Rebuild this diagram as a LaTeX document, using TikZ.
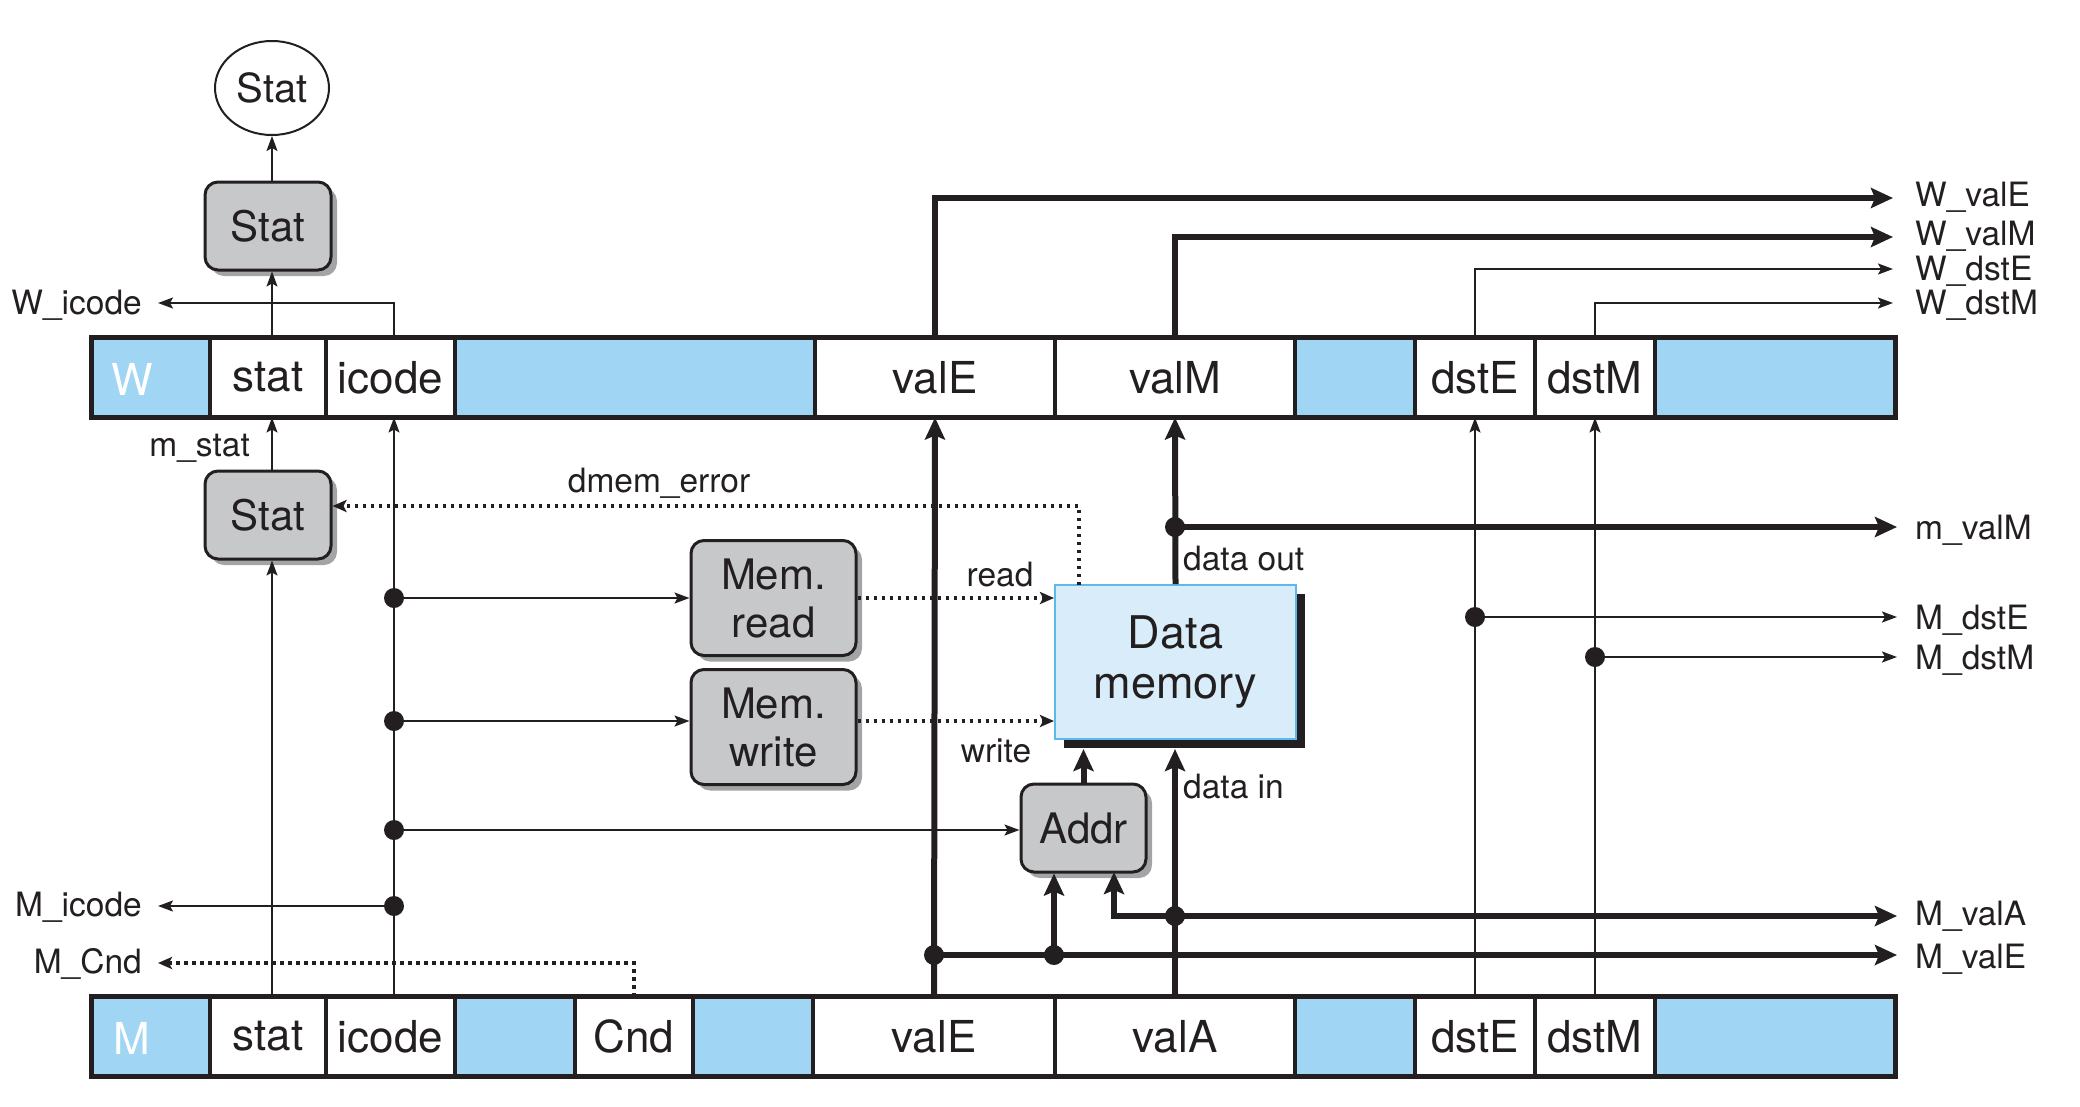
\documentclass[tikz,border=0pt]{standalone}
\usepackage{fontspec}
\setmainfont{TeX Gyre Heros}
\usetikzlibrary{arrows.meta,shapes.geometric,shadows,calc}
\definecolor{ink}{HTML}{231F20}
\definecolor{regblue}{HTML}{A0D6F3}
\definecolor{boxgray}{HTML}{C7C8CA}
\definecolor{shadowgray}{HTML}{A3A4A6}
\definecolor{memfill}{HTML}{D8ECFA}
\definecolor{memedge}{HTML}{5DB9EC}
\newcommand\cellfont{\fontsize{44}{48}\selectfont}
\newcommand\boxfont{\fontsize{42}{48}\selectfont}
\newcommand\memfont{\fontsize{45}{50}\selectfont}
\newcommand\ellfont{\fontsize{40}{44}\selectfont}
\newcommand\lblfont{\fontsize{33.5}{37}\selectfont}
\begin{document}
\begin{tikzpicture}[x=1pt,y=-1pt,color=ink,
 regcell/.style={draw=ink, line width=3.5pt, minimum height=80pt, inner sep=0pt, outer sep=0pt, fill=white, font=\cellfont},
 bluecell/.style={regcell, fill=regblue},
 gbox/.style={draw=ink, line width=3pt, rounded corners=13pt, fill=boxgray, font=\boxfont, align=center, inner sep=0pt,
   drop shadow={shadow xshift=6pt, shadow yshift=-6pt, fill=shadowgray, opacity=1, draw=none}},
 lbl/.style={font=\lblfont, inner sep=0pt},
 arr/.style={line width=1.9pt, -{Stealth[length=15pt,width=11pt,inset=3pt]}},
 tarr/.style={line width=6pt, -{Stealth[length=22pt,width=20pt,inset=4pt]}},
 darr/.style={line width=3.5pt, dash pattern=on 3.5pt off 4.5pt, -{Stealth[length=14pt,width=12pt,inset=3pt]}},
]
\useasboundingbox (0,0) rectangle (2080,1106);

% ---------- W register ----------
\node[bluecell, minimum width=118.5pt] (Wlab) at (150.75,377.5) {};
\node[regcell, minimum width=116pt] (Wstat) at (268,377.5) {stat};
\node[regcell, minimum width=129pt] (Wicode) at (390.5,377.5) {icode};
\node[bluecell, minimum width=360pt] (Wb1) at (635,377.5) {};
\node[regcell, minimum width=240pt] (WvalE) at (935,377.5) {valE};
\node[regcell, minimum width=240pt] (WvalM) at (1175,377.5) {valM};
\node[bluecell, minimum width=120pt] (Wb2) at (1355,377.5) {};
\node[regcell, minimum width=120pt] (WdstE) at (1475,377.5) {dstE};
\node[regcell, minimum width=120pt] (WdstM) at (1595,377.5) {dstM};
\node[bluecell, minimum width=240pt] (Wb3) at (1775,377.5) {};
\draw[line width=5pt] (Wlab.north west) rectangle (Wb3.south east);
\node[font=\cellfont, text=white, anchor=west, inner sep=0pt] (Wtxt) at (111,379.5) {W};

% ---------- M register ----------
\node[bluecell, minimum width=118.5pt] (Mlab) at (150.75,1036.5) {};
\node[regcell, minimum width=116pt] (Mstat) at (268,1036.5) {stat};
\node[regcell, minimum width=129pt] (Micode) at (390.5,1036.5) {icode};
\node[bluecell, minimum width=120pt] (Mb1) at (515,1036.5) {};
\node[regcell, minimum width=118pt] (MCnd) at (634,1036.5) {Cnd};
\node[bluecell, minimum width=120pt] (Mb2) at (753,1036.5) {};
\node[regcell, minimum width=242pt] (MvalE) at (934,1036.5) {valE};
\node[regcell, minimum width=240pt] (MvalA) at (1175,1036.5) {valA};
\node[bluecell, minimum width=120pt] (Mb3) at (1355,1036.5) {};
\node[regcell, minimum width=120pt] (MdstE) at (1475,1036.5) {dstE};
\node[regcell, minimum width=120pt] (MdstM) at (1595,1036.5) {dstM};
\node[bluecell, minimum width=240pt] (Mb4) at (1775,1036.5) {};
\draw[line width=5pt] (Mlab.north west) rectangle (Mb4.south east);
\node[font=\cellfont, text=white, anchor=west, inner sep=0pt] (Mtxt) at (113,1038.5) {M};

% ---------- boxes ----------
\node[draw=ink, ellipse, line width=2pt, minimum width=114pt, minimum height=94pt, inner sep=0pt, fill=white, font=\ellfont] (statE) at (272,88) {Stat};
\node[gbox, minimum width=126pt, minimum height=88pt] (statT) at (268,226) {Stat};
\node[gbox, minimum width=126pt, minimum height=88pt] (statB) at (268,515) {Stat};
\node[gbox, minimum width=165pt, minimum height=115pt] (memR) at (773.5,598) {Mem.\\read};
\node[gbox, minimum width=165pt, minimum height=115pt] (memW) at (773.5,727) {Mem.\\write};
\node[gbox, minimum width=125pt, minimum height=88pt] (addr) at (1083.5,828) {Addr};
\node[draw=memedge, line width=2pt, fill=memfill, minimum width=241pt, minimum height=154pt, inner sep=0pt, align=center, font=\memfont,
   drop shadow={shadow xshift=9pt, shadow yshift=-9pt, fill=ink, opacity=1, draw=none}] (dmem) at (1175.5,662) {Data\\memory};

% ---------- coordinates ----------
\coordinate (scx) at (272,0);
\coordinate (icx) at (394,0);
\coordinate (dmemS) at ([yshift=-9pt]dmem.south);
\coordinate (wicodeL) at (158,303);
\coordinate (micodeL) at (158,906);
\coordinate (mcndL) at (158,963);
\coordinate (jR) at (394,598);
\coordinate (jW) at (394,721);
\coordinate (jA) at (394,830);
\coordinate (jI) at (394,906);
\coordinate (dmemErr) at (1079,585);
\coordinate (jmv) at (1175,527);
\coordinate (jE) at (934,955);
\coordinate (jEA) at (1054,955);
\coordinate (jA2) at (1175,916);
\coordinate (aB) at (1114,872);
\coordinate (jdE) at (1475,617);
\coordinate (jdM) at (1595,657);
\coordinate (eWvalE) at (1893,198);
\coordinate (eWvalM) at (1893,237);
\coordinate (eWdstE) at (1893,269);
\coordinate (eWdstM) at (1893,303);
\coordinate (emvalM) at (1897,527);
\coordinate (eMdstE) at (1897,617);
\coordinate (eMdstM) at (1897,657);
\coordinate (eMvalA) at (1897,916);
\coordinate (eMvalE) at (1897,955);

% ---------- stat / icode column ----------
\draw[arr] (statE.south |- statT.north) -- (statE.south);
\draw[arr] (scx |- Wstat.north) -- (scx |- statT.south);
\draw[arr] (icx |- Wicode.north) |- (wicodeL);
\draw[arr] (scx |- statB.north) -- (scx |- Wstat.south);
\draw[arr] (scx |- Mstat.north) -- (scx |- statB.south);
\draw[arr] (icx |- Micode.north) -- (icx |- Wicode.south);
\draw[arr] (jR) -- (jR -| memR.west);
\draw[arr] (jW) -- (jW -| memW.west);
\draw[arr] (jA) -- (jA -| addr.west);
\draw[arr] (jI) -- (micodeL);
\foreach \p in {jR,jW,jA,jI} \fill (\p) circle (10pt);
\draw[darr] (MCnd.north) |- (mcndL);
\draw[darr] (dmemErr) |- ([yshift=9pt]statB.east);

% ---------- memory control ----------
\draw[darr] (memR.east) -- (memR.east -| dmem.west);
\draw[darr] (memW.east |- jW) -- (jW -| dmem.west);

% ---------- data paths ----------
\draw[tarr] (addr.north) -- (addr.north |- dmemS);
\draw[tarr] (MvalA.north) -- (MvalA.north |- dmemS);
\draw[tarr] (dmem.north) -- (WvalM.south);
\draw[tarr] (jmv) -- (emvalM);
\draw[tarr] (MvalE.north) -- (WvalE.south);
\draw[tarr] (jE) -- (eMvalE);
\draw[tarr] (jEA) -- (jEA |- addr.south);
\draw[tarr] (jA2) -| (aB);
\draw[tarr] (jA2) -- (eMvalA);
\foreach \p in {jmv,jE,jEA,jA2} \fill (\p) circle (10pt);
\draw[tarr] (WvalE.north) |- (eWvalE);
\draw[tarr] (WvalM.north) |- (eWvalM);
\draw[arr] (WdstE.north) |- (eWdstE);
\draw[arr] (WdstM.north) |- (eWdstM);
\draw[arr] (MdstE.north) -- (WdstE.south);
\draw[arr] (MdstM.north) -- (WdstM.south);
\draw[arr] (jdE) -- (eMdstE);
\draw[arr] (jdM) -- (eMdstM);
\foreach \p in {jdE,jdM} \fill (\p) circle (10pt);

% ---------- labels ----------
\node[lbl, anchor=mid east] (tWicode) at (142,312) {W\_icode};
\node[lbl, anchor=mid east] (tMicode) at (142,914) {M\_icode};
\node[lbl, anchor=mid east] (tMcnd) at (142,971) {M\_Cnd};
\node[lbl, anchor=mid east] (tmstat) at (250,454) {m\_stat};
\node[lbl, anchor=mid] (tdmem) at (659,490) {dmem\_error};
\node[lbl, anchor=mid] (tread) at (1000,584) {read};
\node[lbl, anchor=mid] (twrite) at (996,760) {write};
\node[lbl, anchor=mid west] (tdout) at (1183,568) {data out};
\node[lbl, anchor=mid west] (tdin) at (1183,796) {data in};
\node[lbl, anchor=mid west] (tWvalE) at (1915,204) {W\_valE};
\node[lbl, anchor=mid west] (tWvalM) at (1915,243) {W\_valM};
\node[lbl, anchor=mid west] (tWdstE) at (1915,278) {W\_dstE};
\node[lbl, anchor=mid west] (tWdstM) at (1915,312) {W\_dstM};
\node[lbl, anchor=mid west] (tmvalM) at (1915,537) {m\_valM};
\node[lbl, anchor=mid west] (tMdstE) at (1915,627) {M\_dstE};
\node[lbl, anchor=mid west] (tMdstM) at (1915,667) {M\_dstM};
\node[lbl, anchor=mid west] (tMvalA) at (1915,923) {M\_valA};
\node[lbl, anchor=mid west] (tMvalE) at (1915,966) {M\_valE};
\end{tikzpicture}
\end{document}
